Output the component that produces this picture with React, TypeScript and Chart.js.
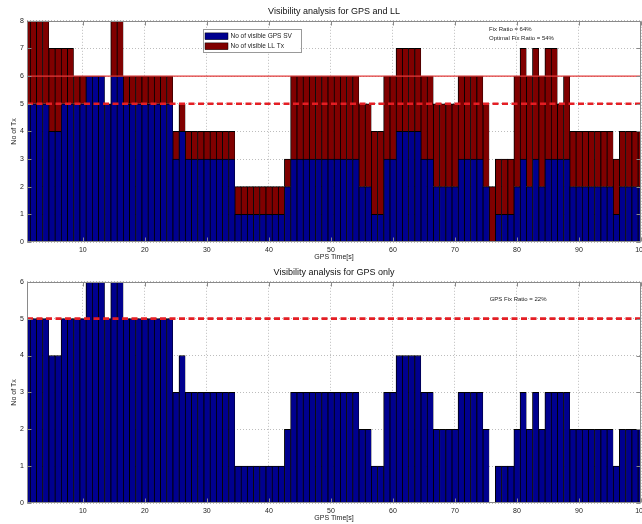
import React, { useEffect, useRef } from 'react';
import { Chart, registerables } from 'chart.js';

Chart.register(...registerables);

const FONT = "'Liberation Sans', Arial, Helvetica, sans-serif";

const timeSec = [
  1, 2, 3, 4, 5, 6, 7, 8, 9, 10,
  11, 12, 13, 14, 15, 16, 17, 18, 19, 20,
  21, 22, 23, 24, 25, 26, 27, 28, 29, 30,
  31, 32, 33, 34, 35, 36, 37, 38, 39, 40,
  41, 42, 43, 44, 45, 46, 47, 48, 49, 50,
  51, 52, 53, 54, 55, 56, 57, 58, 59, 60,
  61, 62, 63, 64, 65, 66, 67, 68, 69, 70,
  71, 72, 73, 74, 75, 76, 77, 78, 79, 80,
  81, 82, 83, 84, 85, 86, 87, 88, 89, 90,
  91, 92, 93, 94, 95, 96, 97, 98, 99, 100,
];

const gpsSV = [
  5, 5, 5, 5, 4, 4, 5, 5, 5, 5,
  6, 6, 6, 5, 6, 6, 5, 5, 5, 5,
  5, 5, 5, 5, 3, 4, 3, 3, 3, 3,
  3, 3, 3, 3, 1, 1, 1, 1, 1, 1,
  1, 1, 2, 3, 3, 3, 3, 3, 3, 3,
  3, 3, 3, 3, 2, 2, 1, 1, 3, 3,
  4, 4, 4, 4, 3, 3, 2, 2, 2, 2,
  3, 3, 3, 3, 2, 0, 1, 1, 1, 2,
  3, 2, 3, 2, 3, 3, 3, 3, 2, 2,
  2, 2, 2, 2, 2, 1, 2, 2, 2, 2,
];

const llTx = [
  3, 3, 3, 3, 3, 3, 2, 2, 1, 1,
  0, 0, 0, 0, 2, 2, 1, 1, 1, 1,
  1, 1, 1, 1, 1, 1, 1, 1, 1, 1,
  1, 1, 1, 1, 1, 1, 1, 1, 1, 1,
  1, 1, 1, 3, 3, 3, 3, 3, 3, 3,
  3, 3, 3, 3, 3, 3, 3, 3, 3, 3,
  3, 3, 3, 3, 3, 3, 3, 3, 3, 3,
  3, 3, 3, 3, 3, 2, 2, 2, 2, 4,
  4, 4, 4, 4, 4, 4, 2, 3, 2, 2,
  2, 2, 2, 2, 2, 2, 2, 2, 2, 2,
];

const xTickValues = [10, 20, 30, 40, 50, 60, 70, 80, 90, 100];
const topYMax = 8;
const bottomYMax = 6;
const fixThreshold = 5;
const optimalThreshold = 6;

const topTitle = 'Visibility analysis for GPS and LL';
const bottomTitle = 'Visibility analysis for GPS only';
const xTitle = 'GPS Time[s]';
const yTitle = 'No of Tx';
const gpsLabel = 'No of visible GPS SV';
const llLabel = 'No of visible LL Tx';
const topNotes = ['Fix Ratio = 64%', 'Optimal Fix Ratio = 54%'];
const bottomNotes = ['GPS Fix Ratio = 22%'];

const GPS_COLOR = '#00008F';
const LL_COLOR = '#800000';
const TEXT_COLOR = '#222';
const GRID_COLOR = '#bdbdbd';
const FRAME_COLOR = '#8a8a8a';

function toPoints(values: number[]) {
  return timeSec.map((t, i) => ({ x: t, y: values[i] }));
}

function hLine(value: number) {
  return [
    { x: timeSec[0], y: value },
    { x: timeSec[timeSec.length - 1], y: value },
  ];
}

function barDataset(label: string, values: number[], color: string) {
  return {
    type: 'bar' as const,
    label,
    data: toPoints(values),
    backgroundColor: color,
    borderColor: '#000',
    borderWidth: { left: 1, top: 1, right: 0.5, bottom: 0 },
    borderSkipped: false,
    barPercentage: 1,
    categoryPercentage: 1,
    stack: 'tx',
    clip: 0,
    order: 3,
  };
}

function lineDataset(value: number, dashed: boolean, stack: string, order: number) {
  return {
    type: 'line' as const,
    label: 'threshold',
    data: hLine(value),
    borderColor: dashed ? 'rgb(228,30,36)' : 'rgb(226,58,58)',
    borderWidth: dashed ? 2.6 : 1.4,
    borderDash: dashed ? [6, 3.5] : [],
    pointRadius: 0,
    fill: false,
    stack,
    order,
  };
}

function makeFramePlugin(notes: string[], noteX: number, noteY: number, showLegend: boolean) {
  return {
    id: 'frameAndNotes',
    afterDatasetsDraw(chart: any) {
      const { ctx, chartArea: a, scales } = chart;
      const xs = scales.x;
      const ys = scales.y;
      ctx.save();
      ctx.strokeStyle = FRAME_COLOR;
      ctx.lineWidth = 1;
      const L = Math.round(a.left) + 0.5;
      const R = Math.round(a.right) - 0.5;
      const T = Math.round(a.top) + 0.5;
      const B = Math.round(a.bottom) - 0.5;
      ctx.beginPath();
      ctx.rect(L, T, R - L, B - T);
      ctx.stroke();
      const tl = 4;
      ctx.beginPath();
      xTickValues.forEach((v) => {
        const px = Math.round(xs.getPixelForValue(v)) + 0.5;
        ctx.moveTo(px, T);
        ctx.lineTo(px, T + tl);
        ctx.moveTo(px, B);
        ctx.lineTo(px, B - tl);
      });
      ys.ticks.forEach((t: any) => {
        const py = Math.round(ys.getPixelForValue(t.value)) + 0.5;
        ctx.moveTo(L, py);
        ctx.lineTo(L + tl, py);
        ctx.moveTo(R, py);
        ctx.lineTo(R - tl, py);
      });
      ctx.stroke();

      ctx.fillStyle = TEXT_COLOR;
      ctx.font = `6px ${FONT}`;
      ctx.textAlign = 'left';
      ctx.textBaseline = 'middle';
      const nx = xs.getPixelForValue(noteX);
      const ny = ys.getPixelForValue(noteY);
      notes.forEach((n, i) => ctx.fillText(n, nx, ny + i * 9));

      if (showLegend) {
        const bars = chart.data.datasets.filter((d: any) => d.type === 'bar');
        const bx = a.left + 175.5;
        const by = a.top + 8.5;
        const bw = 98;
        const rowH = 10;
        const bh = bars.length * rowH + 3;
        ctx.fillStyle = '#fff';
        ctx.fillRect(bx, by, bw, bh);
        ctx.strokeStyle = '#999';
        ctx.strokeRect(Math.round(bx) + 0.5, Math.round(by) + 0.5, bw, bh);
        ctx.font = `6.5px ${FONT}`;
        bars.forEach((d: any, i: number) => {
          const cy = by + 2 + rowH * i + rowH / 2;
          ctx.fillStyle = d.backgroundColor;
          ctx.fillRect(bx + 2.5, cy - 3.4, 23, 6.8);
          ctx.strokeStyle = '#000';
          ctx.lineWidth = 0.5;
          ctx.strokeRect(bx + 2.5, cy - 3.4, 23, 6.8);
          ctx.fillStyle = TEXT_COLOR;
          ctx.fillText(d.label, bx + 28, cy);
        });
      }
      ctx.restore();
    },
  };
}

function makeConfig(opts: {
  title: string;
  datasets: any[];
  yMax: number;
  notes: string[];
  noteX: number;
  noteY: number;
  legend: boolean;
}) {
  const tickFont = { size: 7, family: FONT };
  return {
    type: 'bar' as const,
    data: { datasets: opts.datasets },
    plugins: [makeFramePlugin(opts.notes, opts.noteX, opts.noteY, opts.legend)],
    options: {
      responsive: false,
      animation: false,
      layout: { padding: { left: 0, right: 19, top: 0, bottom: 0 } },
      plugins: {
        legend: { display: false },
        tooltip: { enabled: false },
        title: {
          display: true,
          text: opts.title,
          fullSize: false,
          color: '#111',
          font: { size: 9, family: FONT, weight: 'normal' },
          padding: { top: 6, bottom: 4 },
        },
      },
      scales: {
        x: {
          type: 'linear',
          min: timeSec[0],
          max: timeSec[timeSec.length - 1],
          offset: false,
          grid: { offset: false, color: GRID_COLOR, drawTicks: false },
          border: { display: false, dash: [1, 2] },
          ticks: { padding: 4, font: tickFont, color: TEXT_COLOR, maxRotation: 0, autoSkip: false },
          afterBuildTicks: (s: any) => {
            s.ticks = xTickValues.map((v) => ({ value: v }));
          },
          afterFit: (s: any) => {
            s.height = 20;
          },
          title: {
            display: true,
            text: xTitle,
            color: TEXT_COLOR,
            font: { size: 7, family: FONT },
            padding: { top: 0, bottom: 1 },
          },
        },
        y: {
          type: 'linear',
          min: 0,
          max: opts.yMax,
          stacked: true,
          grid: { color: GRID_COLOR, drawTicks: false },
          border: { display: false, dash: [1, 2] },
          ticks: { stepSize: 1, padding: 3, font: tickFont, color: TEXT_COLOR },
          afterFit: (s: any) => {
            s.width = 27;
          },
          title: {
            display: true,
            text: yTitle,
            color: TEXT_COLOR,
            font: { size: 7, family: FONT },
            padding: { top: 9.5, bottom: 0 },
          },
        },
      },
    },
  };
}

function ChartCanvas({ config, top }: { config: any; top: number }) {
  const ref = useRef<HTMLCanvasElement | null>(null);
  useEffect(() => {
    if (!ref.current) return;
    const chart = new Chart(ref.current, config);
    return () => chart.destroy();
  }, [config]);
  return (
    <canvas
      ref={ref}
      width={660}
      height={262}
      style={{ position: 'absolute', left: 0, top, width: 660, height: 262, display: 'block' }}
    />
  );
}

const topConfig = makeConfig({
  title: topTitle,
  datasets: [
    lineDataset(fixThreshold, true, 'l5', 0),
    lineDataset(optimalThreshold, false, 'l6', 1),
    barDataset(gpsLabel, gpsSV, GPS_COLOR),
    barDataset(llLabel, llTx, LL_COLOR),
  ],
  yMax: topYMax,
  notes: topNotes,
  noteX: 75.5,
  noteY: 7.68,
  legend: true,
});

const bottomConfig = makeConfig({
  title: bottomTitle,
  datasets: [
    lineDataset(fixThreshold, true, 'l5', 0),
    barDataset(gpsLabel, gpsSV, GPS_COLOR),
  ],
  yMax: bottomYMax,
  notes: bottomNotes,
  noteX: 75.6,
  noteY: 5.52,
  legend: false,
});

export default function App() {
  return (
    <div
      style={{
        position: 'absolute',
        left: 0,
        top: 0,
        width: 642,
        height: 524,
        overflow: 'hidden',
        background: '#fff',
      }}
    >
      <ChartCanvas config={topConfig} top={0} />
      <ChartCanvas config={bottomConfig} top={261} />
    </div>
  );
}
